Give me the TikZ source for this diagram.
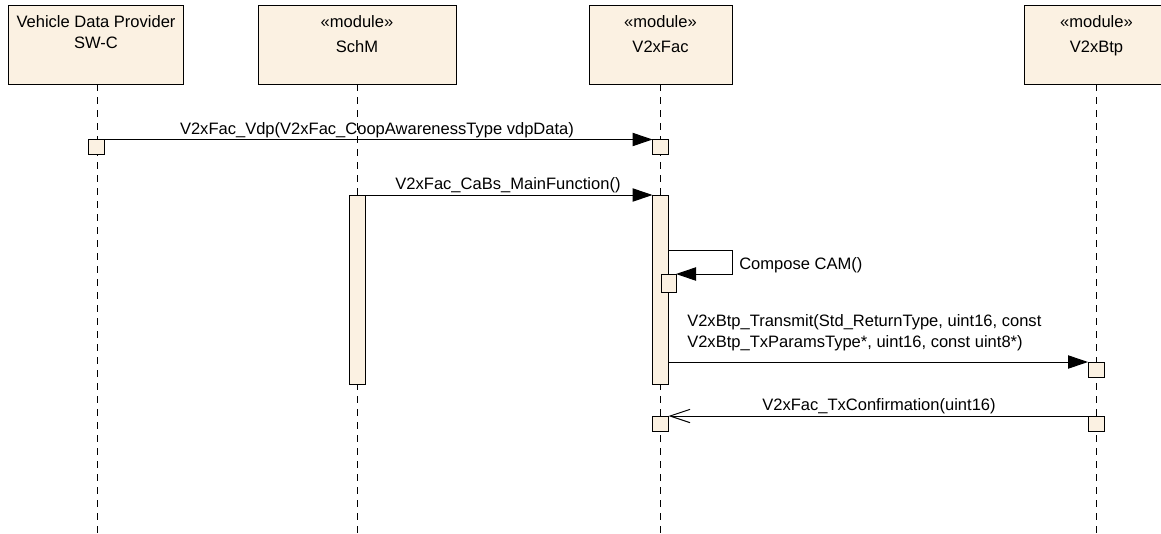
\documentclass[tikz,border=0pt]{standalone}
\usepackage{fontspec}
\setmainfont{Liberation Sans}
\usetikzlibrary{arrows.meta}
\definecolor{boxfill}{RGB}{251,241,226}
\begin{document}
\begin{tikzpicture}[x=0.75pt,y=-0.75pt,
  font=\fontsize{12.4}{15}\selectfont,
  headbox/.style={draw, fill=boxfill, line width=0.75pt, inner sep=0pt, outer sep=0pt, anchor=north west, minimum height=59.25pt},
  lifeline/.style={line width=0.75pt, dash pattern=on 5.25pt off 4.5pt},
  actbox/.style={draw, fill=boxfill, line width=0.75pt, inner sep=0pt, outer sep=0pt, minimum width=12pt, minimum height=11.25pt},
  msg/.style={line width=0.75pt, -{Triangle[length=15pt,width=10pt]}},
  retmsg/.style={line width=0.75pt, -{Straight Barb[length=15pt,width=10pt]}},
  lbl/.style={inner sep=0pt, anchor=base}
]
\useasboundingbox (0,0) rectangle (1161,533);
\clip (0,0) rectangle (1161,533);

% lifeline end coordinates
\coordinate (e1) at (97,533);
\coordinate (e2) at (357,533);
\coordinate (e3) at (660.5,533);
\coordinate (e4) at (1096.5,533);

% headers
\node[headbox, minimum width=131.25pt] (h1) at (8,5) {};
\node[headbox, minimum width=148.5pt] (h2) at (258,5) {};
\node[headbox, minimum width=107.25pt] (h3) at (589,5) {};
\node[headbox, minimum width=109.5pt] (h4) at (1024,5) {};

% lifelines
\draw[lifeline] (h1.south -| e1) -- (e1);
\draw[lifeline] (h2.south -| e2) -- (e2);
\draw[lifeline] (h3.south -| e3) -- (e3);
\draw[lifeline] (h4.south -| e4) -- (e4);

% header texts
\node[lbl] (t1a) at (96,27) {Vehicle Data Provider};
\node[lbl] (t1b) at (96,48) {SW-C};
\node[lbl] (t2a) at (357,27) {«module»};
\node[lbl] (t2b) at (357,52.5) {SchM};
\node[lbl] (t3a) at (660.5,27) {«module»};
\node[lbl] (t3b) at (660.5,52.5) {V2xFac};
\node[lbl] (t4a) at (1096.5,27) {«module»};
\node[lbl] (t4b) at (1096.5,52.5) {V2xBtp};

% activations
\node[actbox] (a1) at (96,147) {};
\node[actbox] (a3) at (660.5,147) {};
\node[actbox, minimum height=141.75pt] (barS) at (357,289.5) {};
\node[actbox, minimum height=141.75pt] (barF) at (660.5,289.5) {};
\node[actbox, minimum width=11.25pt, minimum height=13.5pt] (nest) at (668.5,283) {};
\node[actbox] (b1) at (1096,369.5) {};
\node[actbox] (f2) at (660.5,423.5) {};
\node[actbox] (b2) at (1096,423.5) {};

% messages
\draw[msg] (a1.north east) -- (a3.north west);
\node[lbl] (m1) at (377,134) {V2xFac\_Vdp(V2xFac\_CoopAwarenessType vdpData)};

\draw[msg] (barS.north east) -- (barF.north west);
\node[lbl] (m2) at (508,189.5) {V2xFac\_CaBs\_MainFunction()};

\coordinate (sc) at (732,250);
\draw[msg] (barF.east |- sc) -- (sc) |- (nest.north east);
\node[lbl, anchor=base west] (m3) at (739,269) {Compose CAM()};

\draw[msg] (barF.east |- b1.north) -- (b1.north west);
\node[lbl, anchor=base west] (m4a) at (687,326) {V2xBtp\_Transmit(Std\_ReturnType, uint16, const};
\node[lbl, anchor=base west] (m4b) at (687,347) {V2xBtp\_TxParamsType*, uint16, const uint8*)};

\draw[retmsg] (b2.north west) -- (f2.north east);
\node[lbl] (m5) at (879,410) {V2xFac\_TxConfirmation(uint16)};
\end{tikzpicture}
\end{document}
